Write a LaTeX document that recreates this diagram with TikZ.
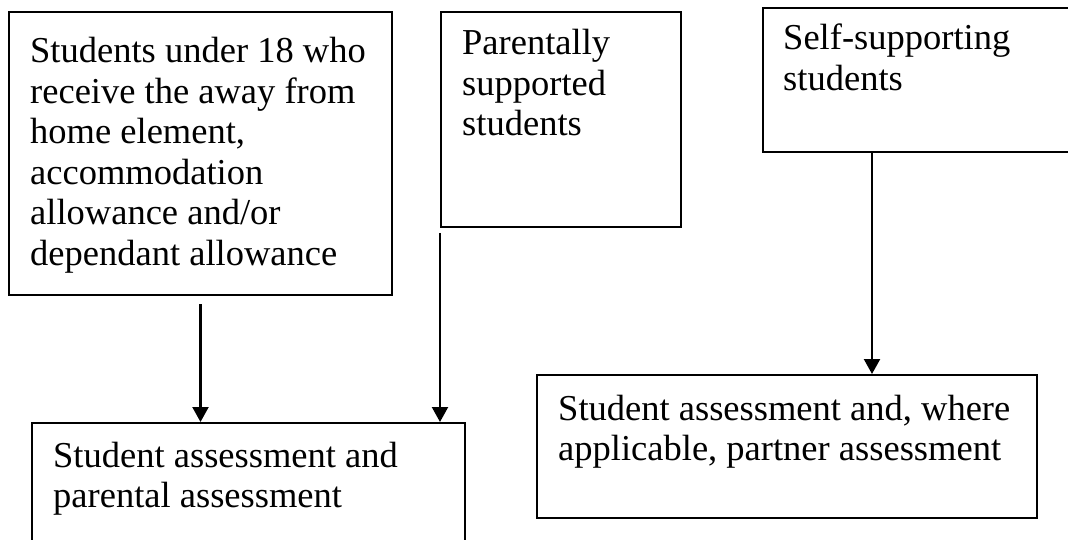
\documentclass[tikz,border=0pt]{standalone}
\usepackage{fontspec}
\setmainfont{Liberation Serif}
\usetikzlibrary{arrows.meta}
\tikzset{
  box/.style={draw=black, line width=2pt, rectangle, inner sep=0pt},
  lbl/.style={anchor=base west, inner sep=0pt},
  arr/.style={draw=black, line width=2.2pt, -{Triangle[width=16pt,length=15pt]}}
}
\newcommand{\boxtext}[1]{\parbox[t]{520pt}{\raggedright\fontsize{36.5pt}{40.5pt}\selectfont #1}}
\begin{document}
\begin{tikzpicture}[x=1pt,y=1pt]
\path[use as bounding box, clip] (0,0) rectangle (1068,539);
\fill[white] (0,0) rectangle (1068,539);
% boxes
\node[box, minimum width=383pt, minimum height=283pt] (b1) at (200.5,385.5) {};
\node[box, minimum width=240pt, minimum height=215pt] (b2) at (561,419.5) {};
\node[box, minimum width=317pt, minimum height=144pt] (b3) at (921.5,459) {};
\node[box, minimum width=433pt, minimum height=146pt] (b4) at (248.5,43) {};
\node[box, minimum width=500pt, minimum height=143pt] (b5) at (787,92.5) {};
% texts
\node[lbl] (t1) at (30,476) {\boxtext{Students under 18 who\\receive the away from\\home element,\\accommodation\\allowance and/or\\dependant allowance}};
\node[lbl] (t2) at (462,484) {\boxtext{Parentally\\supported\\students}};
\node[lbl] (t3) at (783,489) {\boxtext{Self-supporting\\students}};
\node[lbl] (t4) at (53,72) {\boxtext{Student assessment and\\parental assessment}};
\node[lbl] (t5) at (558,119) {\boxtext{Student assessment and, where\\applicable, partner assessment}};
% connectors
\draw[arr] ([yshift=-8pt]b1.south) -- (b1.south |- b4.north);
\draw[arr] ([yshift=-5pt]b2.south west) -- (b2.south west |- b4.north);
\coordinate (c3) at ([xshift=110pt]b3.south west);
\draw[arr] (c3) -- (c3 |- b5.north);
\end{tikzpicture}
\end{document}
